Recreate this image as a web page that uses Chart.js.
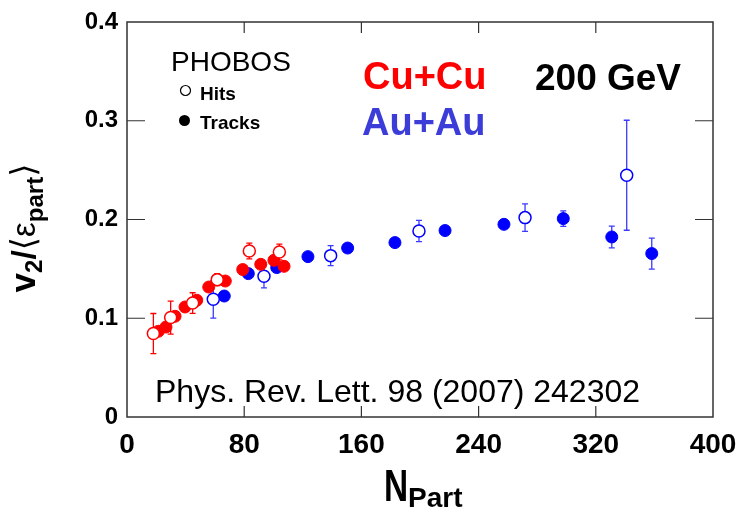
<!DOCTYPE html>
<html>
<head>
<meta charset="utf-8">
<script src="https://cdn.jsdelivr.net/npm/chart.js@4.4.0/dist/chart.umd.min.js"></script>
<style>
  html, body { margin: 0; padding: 0; background: #fff; }
  #wrap { width: 742px; height: 509px; }
</style>
</head>
<body>
<div id="wrap"><canvas id="v2-chart" width="742" height="509"></canvas></div>
<script>
// v2 / <eps_part> vs Npart, PHOBOS Cu+Cu and Au+Au at 200 GeV

const nPartCuHits = [18.0, 29.8, 44.8, 61.6, 83.5, 104.0];
const v2CuHits = [0.0845, 0.1007, 0.1154, 0.1391, 0.1681, 0.1671];
const errCuHits = [0.0203, 0.0167, 0.0104, 0.0060, 0.0079, 0.0080];

const nPartCuTracks = [21.4, 26.6, 32.8, 39.6, 47.6, 55.8, 67.1, 79.0, 91.3, 100.3, 107.2];
const v2CuTracks = [0.0868, 0.0911, 0.1020, 0.1114, 0.1182, 0.1316, 0.1377, 0.1493, 0.1546, 0.1587, 0.1526];
const errCuTracks = [0, 0, 0, 0, 0, 0, 0, 0, 0, 0, 0];

const nPartAuHits = [58.9, 93.5, 139.0, 199.3, 271.7, 341.1];
const v2AuHits = [0.1192, 0.1425, 0.1634, 0.1884, 0.2019, 0.2448];
const errAuHits = [0.0190, 0.0118, 0.0101, 0.0108, 0.0139, 0.0557];

const nPartAuTracks = [66.4, 82.8, 102.2, 123.5, 150.6, 182.9, 217.1, 257.3, 297.8, 330.9, 358.2];
const v2AuTracks = [0.1225, 0.1452, 0.1513, 0.1624, 0.1711, 0.1766, 0.1888, 0.1951, 0.2009, 0.1823, 0.1655];
const errAuTracks = [0, 0, 0, 0, 0, 0, 0, 0, 0.0078, 0.0110, 0.0157];

const xTicks = [0, 80, 160, 240, 320, 400];
const yTicks = [0, 0.1, 0.2, 0.3, 0.4];

const RED = '#ff0000';
const BLUE = '#0000ff';
const FONT = '"Liberation Sans", Arial, "DejaVu Sans", sans-serif';

function toPoints(xs, ys) {
    return xs.map((x, i) => ({ x: x, y: ys[i] }));
}

function series(label, xs, ys, errs, color, open, errColor) {
    return {
        label: label,
        data: toPoints(xs, ys),
        errors: errs,
        errColor: errColor,
        showLine: false,
        pointStyle: 'circle',
        pointRadius: 6,
        pointHoverRadius: 6,
        pointBorderWidth: open ? 1.5 : 1,
        pointBackgroundColor: open ? '#ffffff' : color,
        pointBorderColor: color,
    };
}

// vertical error bars, drawn under the markers
const errorBars = {
    id: 'errorBars',
    beforeDatasetsDraw(chart) {
        const ctx = chart.ctx;
        const yScale = chart.scales.y;
        chart.data.datasets.forEach((ds, i) => {
            const meta = chart.getDatasetMeta(i);
            ctx.save();
            ctx.strokeStyle = ds.errColor;
            ctx.lineWidth = 1.3;
            meta.data.forEach((pt, j) => {
                const e = ds.errors[j];
                if (!e) return;
                const v = ds.data[j].y;
                const top = yScale.getPixelForValue(v + e);
                const bot = yScale.getPixelForValue(v - e);
                ctx.beginPath();
                ctx.moveTo(pt.x, top);
                ctx.lineTo(pt.x, bot);
                ctx.moveTo(pt.x - 3, top);
                ctx.lineTo(pt.x + 3, top);
                ctx.moveTo(pt.x - 3, bot);
                ctx.lineTo(pt.x + 3, bot);
                ctx.stroke();
            });
            ctx.restore();
        });
    }
};

// frame, inward ticks, titles and labels
const decorations = {
    id: 'decorations',
    afterDraw(chart) {
        const ctx = chart.ctx;
        const a = chart.chartArea;
        const xs = chart.scales.x;
        const ys = chart.scales.y;
        ctx.save();

        ctx.strokeStyle = '#333333';
        ctx.lineWidth = 1.5;
        ctx.strokeRect(a.left, a.top, a.right - a.left, a.bottom - a.top);

        ctx.lineWidth = 1.2;
        ctx.beginPath();
        xTicks.slice(1, -1).forEach(t => {
            const px = xs.getPixelForValue(t);
            ctx.moveTo(px, a.bottom);
            ctx.lineTo(px, a.bottom - 11);
            ctx.moveTo(px, a.top);
            ctx.lineTo(px, a.top + 11);
        });
        yTicks.slice(1, -1).forEach(t => {
            const py = ys.getPixelForValue(t);
            ctx.moveTo(a.left, py);
            ctx.lineTo(a.left + 18, py);
            ctx.moveTo(a.right, py);
            ctx.lineTo(a.right - 18, py);
        });
        ctx.stroke();

        ctx.textBaseline = 'alphabetic';
        ctx.textAlign = 'left';

        ctx.fillStyle = '#000';
        ctx.font = '28px ' + FONT;
        ctx.fillText('PHOBOS', 171, 71);
        ctx.font = 'bold 19px ' + FONT;
        ctx.fillText('Hits', 200, 100);
        ctx.fillText('Tracks', 200, 129);

        ctx.lineWidth = 1.2;
        ctx.strokeStyle = '#000';
        ctx.fillStyle = '#fff';
        ctx.beginPath();
        ctx.arc(185.5, 90.5, 5, 0, Math.PI * 2);
        ctx.fill();
        ctx.stroke();
        ctx.fillStyle = '#000';
        ctx.beginPath();
        ctx.arc(184.5, 120.5, 5.5, 0, Math.PI * 2);
        ctx.fill();

        ctx.font = 'bold 38px ' + FONT;
        ctx.fillStyle = RED;
        ctx.fillText('Cu+Cu', 363, 89);
        ctx.fillStyle = '#3c3cd8';
        ctx.fillText('Au+Au', 362, 135);

        ctx.font = 'bold 37px ' + FONT;
        ctx.fillStyle = '#000';
        ctx.fillText('200 GeV', 535, 90);

        ctx.font = '32px ' + FONT;
        ctx.fillText('Phys. Rev. Lett. 98 (2007) 242302', 155, 402);

        // x title: N with subscript Part
        ctx.save();
        ctx.translate(384, 501);
        ctx.scale(0.76, 1);
        ctx.font = 'bold 44px ' + FONT;
        ctx.fillText('N', 0, 0);
        ctx.restore();
        ctx.font = 'bold 28px ' + FONT;
        ctx.fillText('Part', 408, 507);

        // y title: v2 / <eps_part>
        const parts = [
            { t: 'v', f: 'bold 35px ' + FONT, dy: 0 },
            { t: '2', f: 'bold 24px ' + FONT, dy: 7 },
            { t: '/', f: 'bold 34px ' + FONT, dy: 0 },
            { t: '\u27E8', f: '34px "DejaVu Sans", ' + FONT, dy: 0 },
            { t: '\u03B5', f: '33px ' + FONT, dy: 0 },
            { t: 'part', f: 'bold 24px ' + FONT, dy: 8 },
            { t: '\u27E9', f: '34px "DejaVu Sans", ' + FONT, dy: 0 },
        ];
        let total = 0;
        parts.forEach(p => { ctx.font = p.f; p.w = ctx.measureText(p.t).width; total += p.w; });
        ctx.save();
        ctx.translate(35, 228);
        ctx.rotate(-Math.PI / 2);
        let cx = -total / 2;
        parts.forEach(p => {
            ctx.font = p.f;
            ctx.fillText(p.t, cx, p.dy);
            cx += p.w;
        });
        ctx.restore();

        ctx.restore();
    }
};

const ctx = document.getElementById('v2-chart').getContext('2d');
const v2Chart = new Chart(ctx, {
    type: 'scatter',
    data: {
        datasets: [
            series('Cu+Cu Hits', nPartCuHits, v2CuHits, errCuHits, RED, true, RED),
            series('Cu+Cu Tracks', nPartCuTracks, v2CuTracks, errCuTracks, RED, false, RED),
            series('Au+Au Hits', nPartAuHits, v2AuHits, errAuHits, BLUE, true, '#3b3bff'),
            series('Au+Au Tracks', nPartAuTracks, v2AuTracks, errAuTracks, BLUE, false, '#3b3bff'),
        ]
    },
    options: {
        responsive: false,
        animation: false,
        events: [],
        layout: { autoPadding: false, padding: { top: 22, right: 29, left: 0, bottom: 0 } },
        plugins: {
            legend: { display: false },
            tooltip: { enabled: false },
        },
        scales: {
            x: {
                type: 'linear',
                min: 0,
                max: 400,
                afterFit: s => {
                    s.height = 92;
                    s.paddingLeft = 0;
                    s.paddingRight = 0;
                },
                afterBuildTicks: s => { s.ticks = xTicks.map(v => ({ value: v })); },
                grid: { display: false, drawTicks: false },
                border: { display: false },
                ticks: {
                    color: '#000',
                    padding: 11,
                    maxRotation: 0,
                    font: { family: FONT, size: 28, weight: 'bold' },
                    callback: v => String(v),
                },
            },
            y: {
                type: 'linear',
                min: 0,
                max: 0.4,
                afterFit: s => {
                    s.width = 127;
                    s.paddingTop = 0;
                    s.paddingBottom = 0;
                },
                afterBuildTicks: s => { s.ticks = yTicks.map(v => ({ value: v })); },
                grid: { display: false, drawTicks: false },
                border: { display: false },
                ticks: {
                    color: '#000',
                    padding: 9,
                    font: { family: FONT, size: 24, weight: 'bold' },
                    callback: v => (v === 0 ? '0' : v.toFixed(1)),
                },
            },
        },
    },
    plugins: [errorBars, decorations],
});
</script>
</body>
</html>
